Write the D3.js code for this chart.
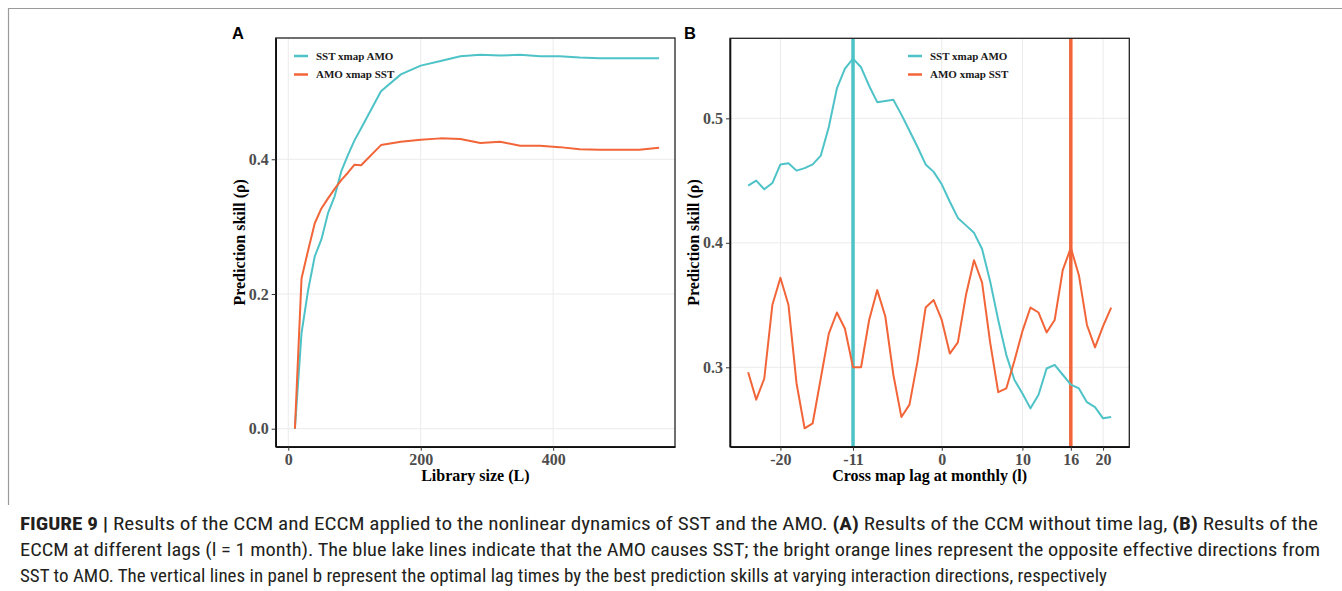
<!DOCTYPE html>
<html>
<head>
<meta charset="utf-8">
<script src="https://cdn.jsdelivr.net/npm/d3@7"></script>
<style>
  body { margin: 0; background: #fff; }
  svg { display: block; }
</style>
</head>
<body>
<div class="container"></div>
<script>
/* Panel A: CCM without lag */
var libSizes = [10, 20, 30, 40, 50, 60, 70, 80, 90, 100, 110, 140, 170, 200, 230, 260, 290, 320, 350, 380, 410, 440, 470, 500, 530, 560];
var sstXmapAmoA = [0.0, 0.142, 0.206, 0.256, 0.281, 0.320, 0.345, 0.382, 0.406, 0.428, 0.446, 0.501, 0.526, 0.539, 0.546, 0.553, 0.555, 0.554, 0.555, 0.553, 0.553, 0.551, 0.550, 0.550, 0.550, 0.550];
var amoXmapSstA = [0.0, 0.223, 0.265, 0.305, 0.327, 0.342, 0.356, 0.369, 0.380, 0.392, 0.391, 0.421, 0.426, 0.429, 0.431, 0.430, 0.424, 0.426, 0.420, 0.420, 0.418, 0.415, 0.414, 0.414, 0.414, 0.417];
var ticksAx = [0, 200, 400];
var ticksAy = [0.0, 0.2, 0.4];

/* Panel B: ECCM at lags -24..21 */
var lags = [-24, -23, -22, -21, -20, -19, -18, -17, -16, -15, -14, -13, -12, -11, -10, -9, -8, -7, -6, -5, -4, -3, -2, -1,
  0, 1, 2, 3, 4, 5, 6, 7, 8, 9, 10, 11, 12, 13, 14, 15, 16, 17, 18, 19, 20, 21];
var sstXmapAmoB = [0.446, 0.450, 0.443, 0.448, 0.463, 0.464, 0.458, 0.460, 0.463, 0.470, 0.493, 0.524, 0.540, 0.548,
  0.541, 0.526, 0.513, 0.514, 0.515, 0.503, 0.490, 0.477, 0.463, 0.457,
  0.447, 0.433, 0.420, 0.414, 0.408, 0.395, 0.369, 0.338, 0.310, 0.290, 0.279, 0.267, 0.278, 0.299, 0.302, 0.294,
  0.286, 0.283, 0.272, 0.268, 0.259, 0.260];
var amoXmapSstB = [0.296, 0.274, 0.291, 0.350, 0.372, 0.350, 0.287, 0.251, 0.255, 0.291, 0.327, 0.344, 0.331, 0.300,
  0.300, 0.338, 0.362, 0.341, 0.294, 0.260, 0.270, 0.305, 0.348, 0.354,
  0.338, 0.311, 0.320, 0.358, 0.386, 0.368, 0.320, 0.280, 0.283, 0.305, 0.329, 0.348, 0.344, 0.328, 0.338, 0.378,
  0.396, 0.374, 0.334, 0.316, 0.333, 0.348];
var ticksBx = [-20, -11, 0, 10, 16, 20];
var ticksBy = [0.3, 0.4, 0.5];
var bestLags = [-11, 16];

var seriesNames = ['SST xmap AMO', 'AMO xmap SST'];
var colors = ['#4EC3C7', '#F26539'];

var w = 1342;
var h = 591;
var serif = '"Liberation Serif", "Times New Roman", serif';

var svg = d3.select('.container')
  .append('svg')
  .attr('width', w)
  .attr('height', h);

/* page frame */
svg.append('path')
  .attr('d', 'M8.5,505 V8.5 H1342')
  .attr('fill', 'none')
  .attr('stroke', '#9a9a9a')
  .attr('stroke-width', 1.2);

function panel(opt) {
  var x = d3.scaleLinear().domain(opt.xDomain).range([opt.left, opt.right]);
  var y = d3.scaleLinear().domain(opt.yDomain).range([opt.bottom, opt.top]);

  var g = svg.append('g');

  /* grid */
  g.selectAll('.gx')
    .data(opt.xTicks.filter(function(d) { return opt.xGrid.indexOf(d) >= 0; }))
    .enter().append('line')
    .attr('x1', function(d) { return x(d); })
    .attr('x2', function(d) { return x(d); })
    .attr('y1', opt.top).attr('y2', opt.bottom)
    .attr('stroke', '#ebebeb').attr('stroke-width', 1);
  g.selectAll('.gy')
    .data(opt.yTicks)
    .enter().append('line')
    .attr('x1', opt.left).attr('x2', opt.right)
    .attr('y1', function(d) { return y(d); })
    .attr('y2', function(d) { return y(d); })
    .attr('stroke', '#ebebeb').attr('stroke-width', 1);

  /* vertical marker lines */
  if (opt.vlines) {
    g.selectAll('.vl')
      .data(opt.vlines)
      .enter().append('line')
      .attr('x1', function(d) { return x(d); })
      .attr('x2', function(d) { return x(d); })
      .attr('y1', opt.top).attr('y2', opt.bottom)
      .attr('stroke', function(d, i) { return colors[i]; })
      .attr('stroke-width', 3.5);
  }

  /* series lines */
  var line = d3.line()
    .x(function(d) { return x(d[0]); })
    .y(function(d) { return y(d[1]); });
  opt.series.forEach(function(s, i) {
    g.append('path')
      .datum(opt.xs.map(function(v, j) { return [v, s[j]]; }))
      .attr('fill', 'none')
      .attr('stroke', colors[i])
      .attr('stroke-width', 2)
      .attr('stroke-linejoin', 'round')
      .attr('d', line);
  });

  /* panel border */
  g.append('rect')
    .attr('x', opt.left).attr('y', opt.top)
    .attr('width', opt.right - opt.left)
    .attr('height', opt.bottom - opt.top)
    .attr('fill', 'none')
    .attr('stroke', '#222')
    .attr('stroke-width', 1.3);

  /* axes */
  var xAxis = d3.axisBottom(x)
    .tickValues(opt.xTicks)
    .tickSize(4)
    .tickSizeOuter(0)
    .tickPadding(3)
    .tickFormat(function(d) { return String(d); });
  var yAxis = d3.axisLeft(y)
    .tickValues(opt.yTicks)
    .tickSize(4)
    .tickSizeOuter(0)
    .tickPadding(3)
    .tickFormat(d3.format('.1f'));

  var gx = g.append('g')
    .attr('transform', 'translate(0,' + opt.bottom + ')')
    .call(xAxis);
  var gy = g.append('g')
    .attr('transform', 'translate(' + opt.left + ',0)')
    .call(yAxis);
  [gx, gy].forEach(function(a) {
    a.select('.domain').attr('stroke', '#111').attr('stroke-width', 1.6);
    a.selectAll('.tick line').attr('stroke', '#333');
    a.selectAll('.tick text')
      .attr('fill', '#4d4d4d')
      .style('font', 'bold 16px ' + serif);
  });

  /* axis titles */
  g.append('text')
    .attr('x', (opt.left + opt.right) / 2)
    .attr('y', 481)
    .attr('text-anchor', 'middle')
    .style('font', 'bold 16px ' + serif)
    .attr('fill', '#000')
    .text(opt.xTitle);
  g.append('text')
    .attr('transform', 'translate(' + opt.yTitleX + ',' + ((opt.top + opt.bottom) / 2) + ') rotate(-90)')
    .attr('text-anchor', 'middle')
    .style('font', 'bold 16px ' + serif)
    .attr('fill', '#000')
    .text('Prediction skill (\u03c1)');

  /* panel letter */
  g.append('text')
    .attr('x', opt.letterX)
    .attr('y', 39)
    .style('font', 'bold 16.5px "Liberation Sans", Arial, sans-serif')
    .attr('fill', '#000')
    .text(opt.letter);

  /* legend */
  seriesNames.forEach(function(name, i) {
    var ly = 56 + i * 18.5;
    g.append('line')
      .attr('x1', opt.legendX).attr('x2', opt.legendX + 14)
      .attr('y1', ly).attr('y2', ly)
      .attr('stroke', colors[i])
      .attr('stroke-width', 2.5);
    g.append('text')
      .attr('x', opt.legendX + 22)
      .attr('y', ly + 3.8)
      .style('font', 'bold 11px ' + serif)
      .attr('fill', '#1a1a1a')
      .text(name);
  });
}

panel({
  left: 275.7, right: 675, top: 38, bottom: 446.7,
  xDomain: [-19, 584], yDomain: [-0.0267, 0.580],
  xs: libSizes, series: [sstXmapAmoA, amoXmapSstA],
  xTicks: ticksAx, xGrid: ticksAx, yTicks: ticksAy,
  xTitle: 'Library size (L)', yTitleX: 245,
  letter: 'A', letterX: 232, legendX: 294
});

panel({
  left: 730, right: 1129.3, top: 38.3, bottom: 446.7,
  xDomain: [-26.25, 23.25], yDomain: [0.2362, 0.5643],
  xs: lags, series: [sstXmapAmoB, amoXmapSstB],
  xTicks: ticksBx, xGrid: [-20, 0, 10, 20], yTicks: ticksBy,
  vlines: bestLags,
  xTitle: 'Cross map lag at monthly (l)', yTitleX: 699,
  letter: 'B', letterX: 684, legendX: 908
});

/* caption */
var capFont = '"Liberation Sans Narrow", "Roboto Condensed", "Liberation Sans", Arial, sans-serif';
var caption = [
  { y: 530, len: 1298, parts: [['FIGURE 9 |', true], [' Results of the CCM and ECCM applied to the nonlinear dynamics of SST and the AMO. ', false], ['(A)', true], [' Results of the CCM without time lag, ', false], ['(B)', true], [' Results of the', false]] },
  { y: 556, len: 1300, parts: [['ECCM at different lags (l = 1 month). The blue lake lines indicate that the AMO causes SST; the bright orange lines represent the opposite effective directions from', false]] },
  { y: 582, len: 1087, parts: [['SST to AMO. The vertical lines in panel b represent the optimal lag times by the best prediction skills at varying interaction directions, respectively', false]] }
];
caption.forEach(function(c) {
  var t = svg.append('text')
    .attr('x', 20)
    .attr('y', c.y)
    .attr('textLength', c.len)
    .attr('lengthAdjust', 'spacingAndGlyphs')
    .style('font-family', capFont)
    .style('font-size', '18px')
    .attr('fill', '#231f20');
  c.parts.forEach(function(p) {
    t.append('tspan')
      .style('font-weight', p[1] ? 'bold' : 'normal')
      .text(p[0]);
  });
});
</script>
</body>
</html>
